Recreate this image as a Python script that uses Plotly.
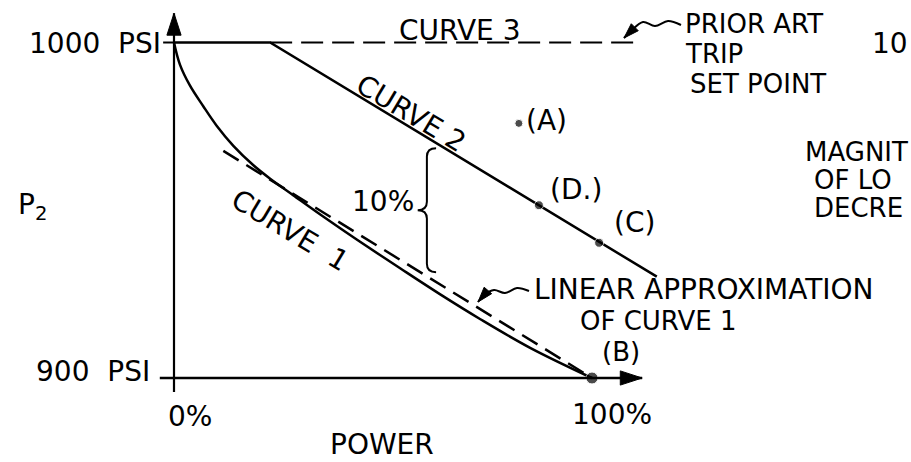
import numpy as np
import plotly.graph_objects as go

# P2 (psi) against power (%)
curve1_power = [0, 1.4, 3.8, 7.0, 10.2, 14.2, 19.0, 23.0, 28.5, 35.6, 43.8, 54.1, 63.6, 73.2, 85.2, 100]
curve1_psi = [1000, 993.5, 987.2, 981.0, 975.2, 969.2, 963.4, 959.4, 954.5, 948.2, 941.2, 932.7, 925.0, 917.6, 909.0, 900]

curve2_power = [0, 23.0, 115.5]
curve2_psi = [1000, 1000, 930.2]

curve3_power = [23.0, 110.3]
curve3_psi = [1000, 1000]

linear_power = [11.8, 100]
linear_psi = [967.7, 900]

point_names = ['(A)', '(D.)', '(C)', '(B)']
point_power = [82.5, 87.3, 101.7, 100]
point_psi = [975.9, 951.5, 940.3, 900]
point_size = [8, 9, 9, 12]

brace_power = 60.5

FONT = dict(family='DejaVu Sans', size=28, color='black')
W, H = 911, 462
XS, YS = 4.18, 3.355   # pixels per % and per psi
X0, Y0 = 174, 42.5     # pixel of 0 % and of 1000 psi


def px(x):
    return x / W


def py(y):
    return 1 - y / H


def to_data(pts):
    xs = [(a - X0) / XS for a, b in pts]
    ys = [1000 - (b - Y0) / YS for a, b in pts]
    return xs, ys


def arrow_line(xs, ys, width=2, size=13):
    sym = ['circle'] * (len(xs) - 1) + ['arrow']
    sz = [0] * (len(xs) - 1) + [size]
    return go.Scatter(x=xs, y=ys, mode='lines+markers',
                      line=dict(color='black', width=width, shape='spline'),
                      marker=dict(symbol=sym, size=sz, color='black', opacity=1,
                                  angleref='previous', line=dict(width=1, color='black')))


fig = go.Figure()

fig.add_trace(go.Scatter(x=curve1_power, y=curve1_psi, mode='lines',
                         line=dict(color='black', width=2.5, shape='spline', smoothing=1)))
fig.add_trace(go.Scatter(x=curve2_power, y=curve2_psi, mode='lines',
                         line=dict(color='black', width=2.5)))
fig.add_trace(go.Scatter(x=curve3_power, y=curve3_psi, mode='lines',
                         line=dict(color='black', width=2, dash='22px,9px')))
fig.add_trace(go.Scatter(x=linear_power, y=linear_psi, mode='lines',
                         line=dict(color='black', width=2.5, dash='18px,9px')))
fig.add_trace(go.Scatter(x=point_power, y=point_psi, mode='markers',
                         marker=dict(color='black', size=point_size)))

# axes with arrow heads
fig.add_trace(arrow_line([0, 0], [895.8, 1008.7], width=2.2, size=23))
fig.add_trace(arrow_line([-3.4, 112.0], [900, 900], width=2.5, size=23))
fig.add_shape(type='line', x0=-2.6, x1=0, y0=1000, y1=1000, xref='x', yref='y',
              line=dict(color='black', width=2))

# leaders to the labels
fig.add_trace(arrow_line(*to_data([(681, 25), (668, 21), (655, 26), (643, 22), (631, 31), (624, 38)]), size=16))
fig.add_trace(arrow_line(*to_data([(529, 291), (517, 288), (505, 293), (494, 290), (484, 295), (478, 302)]), size=16))

# 10% brace between curve 2 and the linear approximation
top = float(np.interp(brace_power, curve2_power, curve2_psi)) - 3.2
bot = float(np.interp(brace_power, linear_power, linear_psi)) + 1.2
mid = (top + bot) / 2
dx, dy = 2.2, 2.5
path = (f'M {brace_power + dx},{top} Q {brace_power},{top} {brace_power},{top - dy} '
        f'L {brace_power},{mid + dy} Q {brace_power},{mid} {brace_power - dx},{mid} '
        f'Q {brace_power},{mid} {brace_power},{mid - dy} '
        f'L {brace_power},{bot + dy} Q {brace_power},{bot} {brace_power + dx},{bot}')
fig.add_shape(type='path', path=path, xref='x', yref='y', line=dict(color='black', width=2))

labels = [
    ('1000\u00a0\u00a0PSI', 163, 43, 'left', 'right', 28, 0),
    ('900\u00a0\u00a0PSI', 152, 371, 'left', 'right', 28, 0),
    ('P<sub>2</sub>', 16, 206, 'left', 'left', 28, 0),
    ('0%', 190, 416, 'center', 'center', 28, 0),
    ('100%', 612, 414, 'center', 'center', 28, 0),
    ('POWER', 382, 444, 'center', 'center', 28, 0),
    ('CURVE 3', 460, 30, 'center', 'center', 28, 0),
    ('PRIOR ART', 683, 24, 'left', 'left', 26, 0),
    ('TRIP', 683, 54, 'left', 'left', 26, 0),
    ('SET POINT', 688, 84, 'left', 'left', 26, 0),
    ('10', 910, 43, 'left', 'right', 28, 0),
    ('(A)', 524, 121, 'left', 'left', 28, 0),
    ('(D.)', 576, 190, 'center', 'center', 28, 0),
    ('(C)', 634, 222, 'center', 'center', 28, 0),
    ('(B)', 621, 352, 'center', 'center', 26, 0),
    ('MAGNIT', 910, 152, 'left', 'right', 26, 0),
    ('OF LO', 812, 180, 'left', 'left', 26, 0),
    ('DECRE', 812, 208, 'left', 'left', 26, 0),
    ('LINEAR APPROXIMATION', 532, 289, 'left', 'left', 28, 0),
    ('OF CURVE 1', 578, 321, 'left', 'left', 26, 0),
    ('10%', 383, 202, 'center', 'center', 28, 0),
    ('CURVE\u00a0\u00a01', 290, 230, 'center', 'center', 28, 31),
    ('CURVE 2', 411, 114, 'center', 'center', 28, 31),
]
for text, x, y, align, anchor, size, angle in labels:
    fig.add_annotation(text=text, x=px(x), y=py(y), xref='paper', yref='paper',
                       xanchor=anchor, yanchor='middle', align=align, textangle=angle,
                       showarrow=False, font=dict(FONT, size=size))

fig.update_layout(width=W, height=H, margin=dict(l=0, r=0, t=0, b=0),
                  plot_bgcolor='white', paper_bgcolor='white', showlegend=False,
                  xaxis=dict(range=[-X0 / XS, (W - X0) / XS], visible=False),
                  yaxis=dict(range=[1000 - (H - Y0) / YS, 1000 + Y0 / YS], visible=False))

fig.write_html('out.html', config={'displayModeBar': False},
               post_script="document.body.style.margin='0';")
